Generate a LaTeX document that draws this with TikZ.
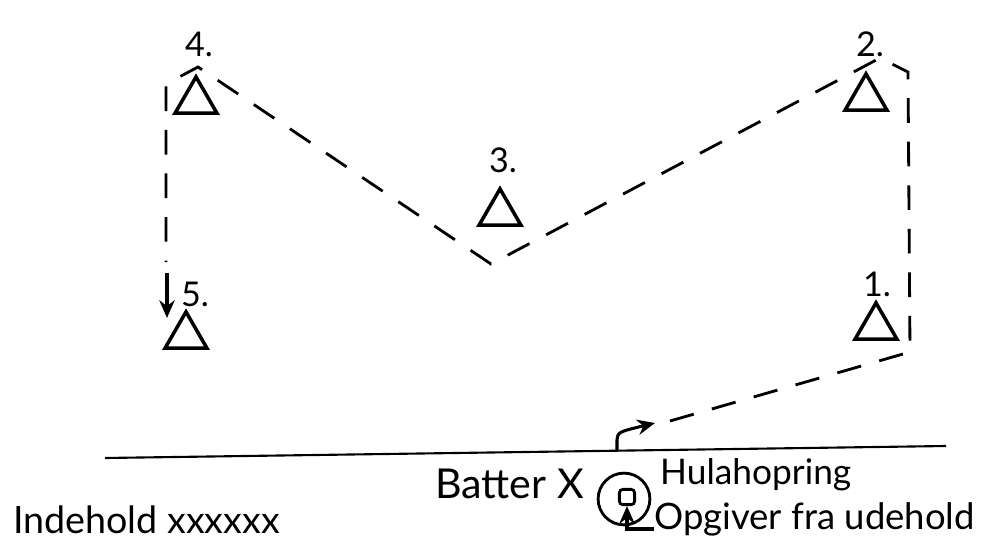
\documentclass[tikz,border=0pt]{standalone}
\usepackage{fontspec}
\setmainfont{Lato}
\usetikzlibrary{shapes.geometric, arrows.meta, positioning, calc}

\begin{document}
\begin{tikzpicture}[
        x=0.85pt, y=-0.85pt,
        marker/.style={regular polygon, regular polygon sides=3, draw, line width=3pt, minimum size=41pt, inner sep=0pt},
        number/.style={font=\fontsize{29}{31}\selectfont, inner sep=0pt},
        note/.style={font=\fontsize{32}{34}\selectfont, inner sep=0pt, anchor=base west},
        route/.style={dash pattern=on 21pt off 16pt, line width=2.4pt},
        move/.style={-{Stealth[length=15pt, width=13pt]}, line width=2.6pt},
        ground/.style={line width=1.8pt}
    ]
        \useasboundingbox (0,0) rectangle (993,542);

        % Bases (triangles)
        \node[marker] (tri1) at (876,327) {};
        \node[marker] (tri2) at (866,98) {};
        \node[marker] (tri3) at (500,213) {};
        \node[marker] (tri4) at (196,101) {};
        \node[marker] (tri5) at (186,336) {};

        % Base numbers
        \node[number] (lab1) at (877,284) {1.};
        \node[number] (lab2) at (870,44) {2.};
        \node[number] (lab3) at (503,160) {3.};
        \node[number] (lab4) at (199,44) {4.};
        \node[number] (lab5) at (195,294) {5.};

        % Ground line
        \coordinate (lineL) at (105,458);
        \coordinate (lineR) at (946,446);
        \draw[ground] (lineL) -- (lineR);

        % Route corners
        \coordinate (hit) at (617,451);
        \coordinate (tipA) at (655,423);
        \coordinate (c0) at (670,421);
        \coordinate (c1) at (910,352);
        \coordinate (c2) at (908,72);
        \coordinate (c3) at (880,58);
        \coordinate (c4) at (491,264);
        \coordinate (c5) at (198,67);
        \coordinate (c6) at (166,84);
        \coordinate (c7) at (166,262);
        \coordinate (c8) at (167,273);
        \coordinate (c9) at (167,318);

        % Running route
        \draw[move] (hit) -- (617,440) .. controls (618,432) .. (tipA);
        \draw[route] (c0) -- (c1) -- (c2) -- (c3) -- (c4) -- (c5) -- (c6) -- (c7);
        \draw[move] (c8) -- (c9);

        % Batter and hoop
        \node[circle, draw, line width=2.4pt, minimum size=44pt, inner sep=0pt] (ring) at (624,499) {};
        \node[draw, rounded corners=3pt, line width=2.4pt, minimum size=13pt, inner sep=0pt] (batter) at (627,497) {};

        % Texts
        \node[note, font=\fontsize{35}{37}\selectfont] (battext) at (435,498) {Batter X};
        \node[note, font=\fontsize{30}{32}\selectfont] (hoop) at (660,484) {Hulahopring};
        \node[note, font=\fontsize{31}{33}\selectfont] (pitcher) at (654,529) {Opgiver fra udehold};
        \node[note] (fielding) at (13,533) {Indehold xxxxxx};

        \draw[move] (pitcher.base west) -| (batter.south);
\end{tikzpicture}
\end{document}
